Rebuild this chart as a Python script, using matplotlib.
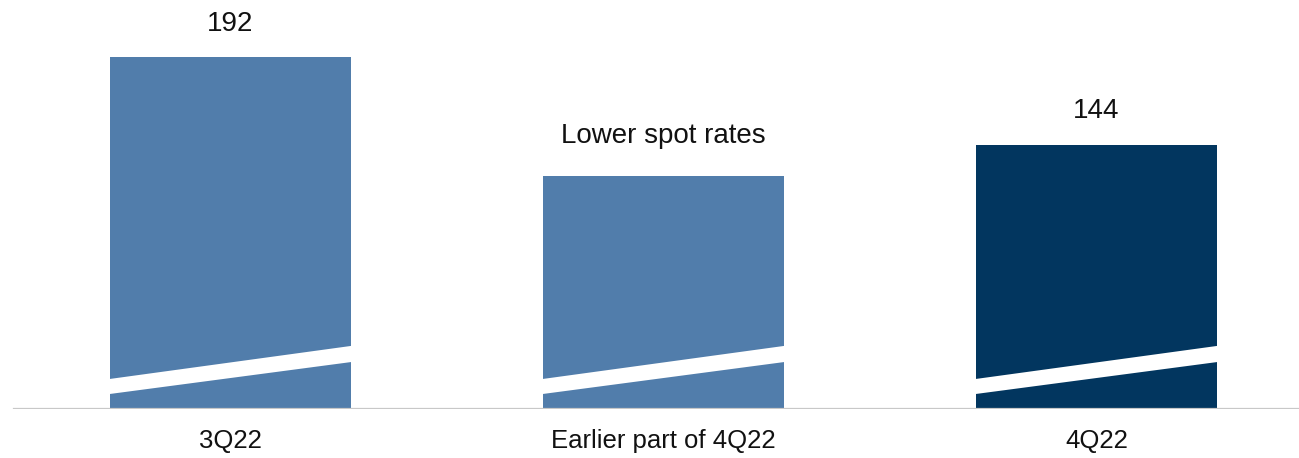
import matplotlib
matplotlib.use("Agg")
import matplotlib.pyplot as plt
from matplotlib.patches import Polygon
from matplotlib.transforms import blended_transform_factory

plt.rcParams["font.family"] = "Liberation Sans"

# Chart data
categories = ["3Q22", "Earlier part of 4Q22", "4Q22"]
values = [192, 127, 144]
value_labels = ["192", "Lower spot rates", "144"]
bar_colors = ["#517DAB", "#517DAB", "#02365F"]

# Axis break drawn across every bar (y at left edge, y at right edge)
break_bottom = (8.2, 25.6)
break_top = (16.4, 34.4)

W, H, DPI = 1299, 458, 100
fig = plt.figure(figsize=(W / DPI, H / DPI), dpi=DPI)

# baseline sits 49 px above the bottom edge
ax = fig.add_axes([0, 49 / H, 1, 409 / H])
px_per_unit = 352 / 192
ax.set_ylim(0, 409 / px_per_unit)
ax.set_xlim(-230.5 / 433, (W - 230.5) / 433)

bar_w = 241 / 433
xs = list(range(len(categories)))
ax.bar(xs, values, width=bar_w, color=bar_colors, zorder=2)

for x in xs:
    x0, x1 = x - bar_w / 2, x + bar_w / 2
    gap = Polygon([(x0, break_bottom[0]), (x1, break_bottom[1]),
                   (x1, break_top[1]), (x0, break_top[0])],
                  closed=True, facecolor="white", edgecolor="none", zorder=3)
    ax.add_patch(gap)

# value / annotation labels above bars
offsets = [33, 40, 34]
for x, v, lab, off in zip(xs, values, value_labels, offsets):
    ax.annotate(lab, xy=(x, v), xytext=(0, off), textcoords="offset pixels",
                ha="center", va="center", fontsize=20, color="#111111")

# category labels under baseline
trans = blended_transform_factory(ax.transData, ax.transAxes)
for x, cat in zip(xs, categories):
    ax.annotate(cat, xy=(x, 0), xycoords=trans, xytext=(0, -32),
                textcoords="offset pixels", ha="center", va="center",
                fontsize=18.5, color="#111111", annotation_clip=False)

# baseline
ax.axhline(0, xmin=14 / W, xmax=1.0, color="#C8C8C8", linewidth=1.6, zorder=4)

for s in ax.spines.values():
    s.set_visible(False)
ax.set_xticks([])
ax.set_yticks([])

fig.savefig("out.png", dpi=DPI)
